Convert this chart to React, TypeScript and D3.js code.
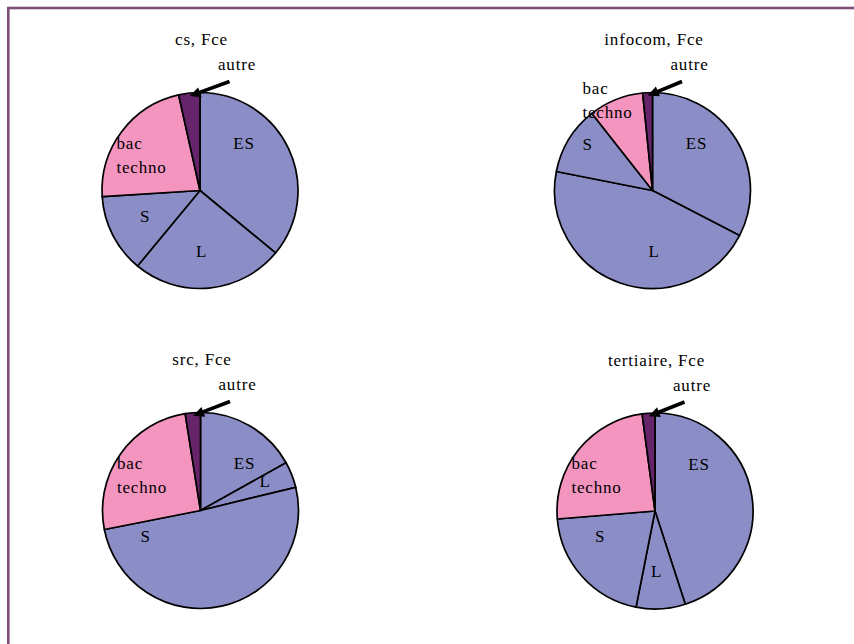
import React from "react";
import * as d3 from "d3";

// Category order as the slices run clockwise from twelve o'clock
const CATEGORIES = ["ES", "L", "S", "bac techno", "autre"];

// Share of each category (%) per course
const CS_VALUES = [36, 25, 13, 22.5, 3.5];
const INFOCOM_VALUES = [32.6, 45.5, 11.3, 9, 1.6];
const SRC_VALUES = [16.9, 4.3, 50.7, 25.6, 2.5];
const TERTIAIRE_VALUES = [45, 8.1, 20.6, 24.2, 2.1];

const TITLES = ["cs, Fce", "infocom, Fce", "src, Fce", "tertiaire, Fce"];
const SERIES = [CS_VALUES, INFOCOM_VALUES, SRC_VALUES, TERTIAIRE_VALUES];

const W = 854;
const H = 644;
const RADIUS = 98;
const FONT = "'Liberation Serif', 'Times New Roman', serif";
const FONT_SIZE = 17;
const LETTER_SPACING = 0.8;

// Cell centres of the 2 x 2 grid of pies
const CENTERS: [number, number][] = [
  [200, 190.5],
  [652.5, 190.5],
  [200.5, 510.5],
  [655, 511],
];

const COLORS: Record<string, string> = {
  ES: "#8b8ec6",
  L: "#8b8ec6",
  S: "#8b8ec6",
  "bac techno": "#f495c0",
  autre: "#66256a",
};

type Placement = { dx: number; dy: number; anchor: "middle" | "start" };

// Label anchor offsets from the pie centre (baseline of first line)
const DEFAULT_PLACEMENT: Record<string, Placement> = {
  ES: { dx: 44, dy: -41.5, anchor: "middle" },
  L: { dx: 1.5, dy: 66, anchor: "middle" },
  S: { dx: -55, dy: 31, anchor: "middle" },
  "bac techno": { dx: -83.5, dy: -42, anchor: "start" },
  autre: { dx: 37, dy: -120.5, anchor: "middle" },
};
const PLACEMENT_OVERRIDES: Record<number, Record<string, Placement>> = {
  1: {
    S: { dx: -65, dy: -41, anchor: "middle" },
    "bac techno": { dx: -70, dy: -97, anchor: "start" },
  },
  2: {
    L: { dx: 64.5, dy: -24, anchor: "middle" },
  },
};

const LINE_HEIGHT = 24;

function Pie({ index }: { index: number }) {
  const [cx, cy] = CENTERS[index];
  const values = SERIES[index];
  const data = CATEGORIES.map((c, i) => ({ cat: c, value: values[i] }));
  const pie = d3
    .pie<{ cat: string; value: number }>()
    .sort(null)
    .value((d) => d.value)
    .startAngle(0)
    .endAngle(2 * Math.PI);
  const arcs = pie(data);
  const arc = d3
    .arc<d3.PieArcDatum<{ cat: string; value: number }>>()
    .innerRadius(0)
    .outerRadius(RADIUS);

  // Arrow pointing to the small "autre" slice
  const autre = arcs[arcs.length - 1];
  const tipAngle = (autre.startAngle + autre.endAngle) / 2;
  const tip: [number, number] = [
    Math.sin(tipAngle) * (RADIUS - 3),
    -Math.cos(tipAngle) * (RADIUS - 3),
  ];
  const tail: [number, number] = [29.5, -109];
  const vx = tip[0] - tail[0];
  const vy = tip[1] - tail[1];
  const len = Math.hypot(vx, vy);
  const ux = vx / len;
  const uy = vy / len;
  const headLen = 11;
  const headHalf = 5.2;
  const bx = tip[0] - ux * headLen;
  const by = tip[1] - uy * headLen;
  const head = [
    [tip[0], tip[1]],
    [bx - uy * headHalf, by + ux * headHalf],
    [bx + uy * headHalf, by - ux * headHalf],
  ]
    .map((p) => p.join(","))
    .join(" ");

  const placementFor = (cat: string): Placement =>
    (PLACEMENT_OVERRIDES[index] && PLACEMENT_OVERRIDES[index][cat]) ||
    DEFAULT_PLACEMENT[cat];

  return (
    <g transform={`translate(${cx},${cy})`}>
      <text
        x={1.5}
        y={-145.5}
        textAnchor="middle"
        fontFamily={FONT}
        fontSize={FONT_SIZE}
        letterSpacing={LETTER_SPACING}
        fill="#000"
      >
        {TITLES[index]}
      </text>
      {arcs.map((a) => (
        <path
          key={a.data.cat}
          d={arc(a) || ""}
          fill={COLORS[a.data.cat]}
          stroke="#000"
          strokeWidth={1.7}
          strokeLinejoin="round"
        />
      ))}
      <line
        x1={tail[0]}
        y1={tail[1]}
        x2={bx + ux * 1}
        y2={by + uy * 1}
        stroke="#000"
        strokeWidth={3.6}
      />
      <polygon points={head} fill="#000" />
      {arcs.map((a) => {
        const p = placementFor(a.data.cat);
        const lines = a.data.cat.split(" ");
        return (
          <text
            key={"lbl-" + a.data.cat}
            x={p.dx}
            y={p.dy}
            textAnchor={p.anchor}
            fontFamily={FONT}
            fontSize={FONT_SIZE}
            letterSpacing={LETTER_SPACING}
            fill="#000"
          >
            {lines.map((ln, i) => (
              <tspan key={i} x={p.dx} dy={i === 0 ? 0 : LINE_HEIGHT}>
                {ln}
              </tspan>
            ))}
          </text>
        );
      })}
    </g>
  );
}

export default function App() {
  return (
    <svg
      width={W}
      height={H}
      viewBox={`0 0 ${W} ${H}`}
      style={{ position: "absolute", left: 0, top: 0, background: "#fff" }}
    >
      <rect x={0} y={0} width={W} height={H} fill="#fff" />
      <rect
        x={8.3}
        y={8}
        width={W + 20}
        height={H + 20}
        fill="none"
        stroke="#7f4d7a"
        strokeWidth={2.6}
      />
      {SERIES.map((_, i) => (
        <Pie key={i} index={i} />
      ))}
    </svg>
  );
}
